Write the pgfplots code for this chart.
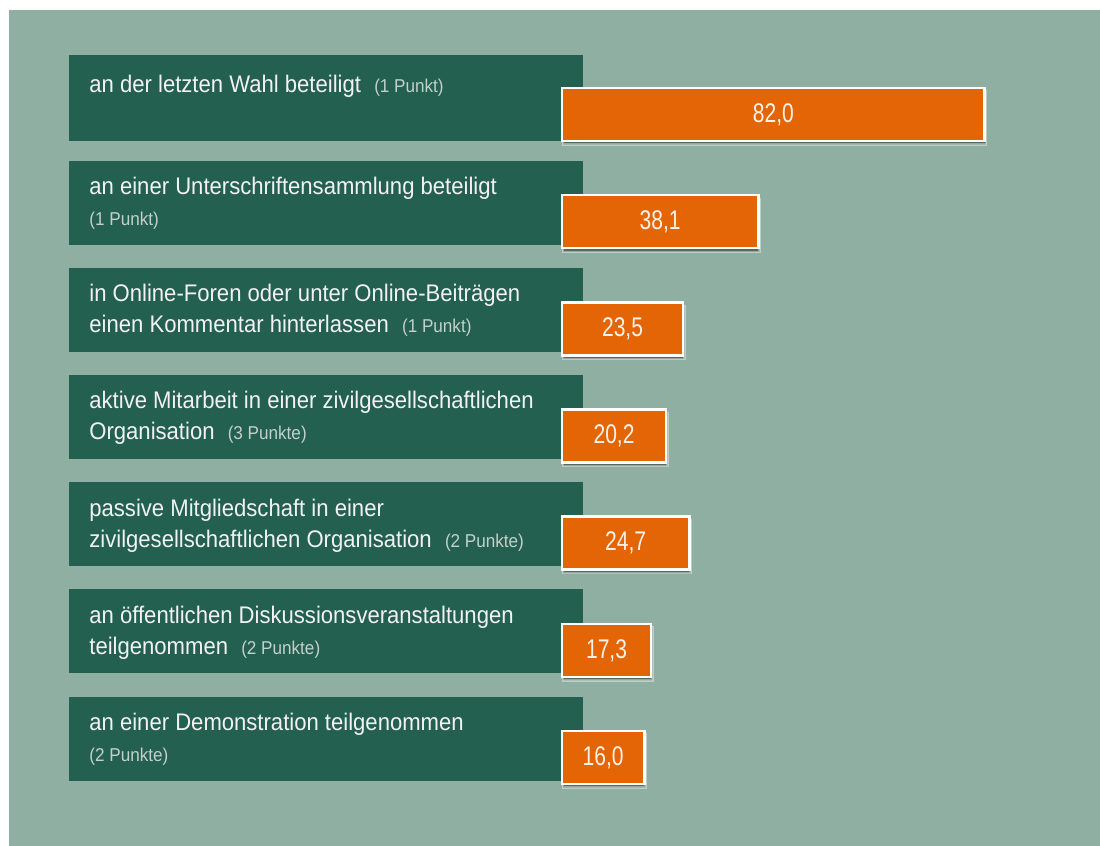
\documentclass[border=0pt]{standalone}
\usepackage{pgfplots}
\pgfplotsset{compat=1.18}
\usepackage{fontspec}
\setmainfont[FakeStretch=0.92]{Liberation Sans}
\newfontfamily\valfont[FakeStretch=0.78]{Liberation Sans}
\usetikzlibrary{shadows}

\definecolor{sage}{RGB}{143,175,163}
\definecolor{dkgreen}{RGB}{35,96,79}
\definecolor{barorange}{RGB}{227,101,5}
\definecolor{txt}{RGB}{242,242,242}
\definecolor{pkt}{RGB}{196,208,202}
\definecolor{valtxt}{RGB}{250,242,232}

% label box: text on top, points in grey
\newcommand\lab[4][42pt]{\parbox[b][#1][t]{257pt}{\raggedright\leftskip=10pt
  \fontsize{12pt}{15.5pt}\selectfont\color{txt}\rule{0pt}{#2}#3{\fontsize{9.3pt}{15.5pt}\selectfont\color{pkt}#4}}}
\newcommand\sep{\hspace{0.55em}}

\begin{document}
\begin{tikzpicture}
\fill[white] (0,0) rectangle (4.5pt,423pt);
\fill[white] (4.5pt,418pt) rectangle (550pt,423pt);
\begin{axis}[
    at={(4.5pt,0pt)}, anchor=south west,
    scale only axis,
    width=545.5pt, height=418pt,
    xmin=-107.27, xmax=104.37,
    ymin=0.0249, ymax=7.8257,
    y dir=reverse,
    set layers,
    axis background/.style={fill=sage},
    axis line style={draw=none},
    major tick length=0pt,
    xtick=\empty,
    ytick={1,...,7},
    yticklabels={
        {\raisebox{-1.75pt}{\lab[43pt]{19pt}{an der letzten Wahl beteiligt\sep}{(1 Punkt)}}},
        {\lab{17pt}{an einer Unterschriftensammlung beteiligt\\}{(1 Punkt)}},
        {\lab{17pt}{in Online-Foren oder unter Online-Beiträgen\\einen Kommentar hinterlassen\sep}{(1 Punkt)}},
        {\lab{17pt}{aktive Mitarbeit in einer zivilgesellschaftlichen\\Organisation\sep}{(3 Punkte)}},
        {\lab{17pt}{passive Mitgliedschaft in einer\\zivilgesellschaftlichen Organisation\sep}{(2 Punkte)}},
        {\lab{17pt}{an öffentlichen Diskussionsveranstaltungen\\teilgenommen\sep}{(2 Punkte)}},
        {\lab{17pt}{an einer Demonstration teilgenommen\\}{(2 Punkte)}},
    },
    yticklabel style={anchor=base west, fill=dkgreen, inner sep=0pt, xshift=30pt, yshift=-11.5pt},
    xbar,
    bar width=26.5pt,
    point meta=x,
    visualization depends on=x \as \rawx,
    nodes near coords,
    nodes near coords style={anchor=center, xshift={-1.28875pt*\rawx},
        font=\valfont\fontsize{13.5pt}{14pt}\selectfont, text=valtxt},
    /pgf/number format/.cd, use comma, fixed, fixed zerofill, precision=1, assume math mode=true,
]
\addplot[fill=barorange, draw=white, line width=1.2pt,
    drop shadow={shadow xshift=0.6pt, shadow yshift=-1.8pt, fill=black, opacity=0.4}]
    coordinates {
    (82.0,1)
    (38.1,2)
    (23.5,3)
    (20.2,4)
    (24.7,5)
    (17.3,6)
    (16.0,7)
};
\end{axis}
\pgfresetboundingbox
\path[use as bounding box] (0,0) rectangle (550pt,423pt);
\end{tikzpicture}
\end{document}
